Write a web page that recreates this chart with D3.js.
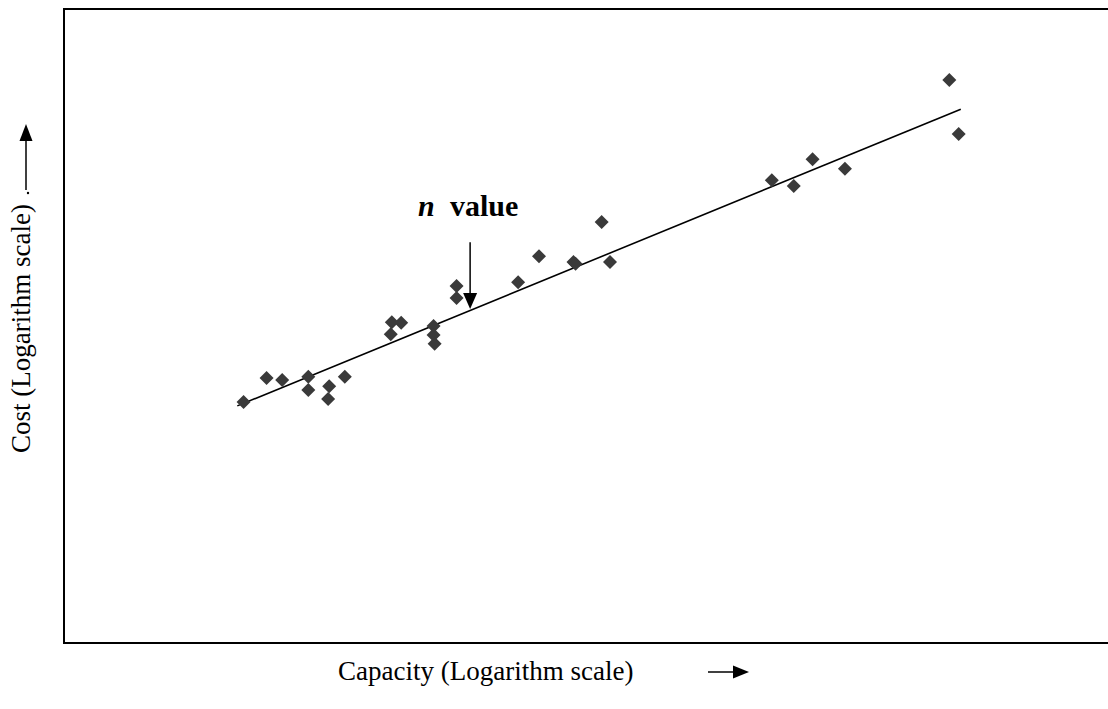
<!DOCTYPE html>
<html>
<head>
<meta charset="utf-8">
<script src="https://cdn.jsdelivr.net/npm/d3@7"></script>
<style>
  body { margin: 0; background: #fff; }
  svg { display: block; }
  text { font-family: "Liberation Serif", "Times New Roman", serif; fill: #000; }
</style>
</head>
<body>
<svg id="chart" width="1108" height="709"></svg>
<script>
// log capacity / log cost, in arbitrary units (0..100)
const logCapacity = [17.2, 19.4, 20.9, 23.4, 23.4, 25.4, 25.3, 26.9, 31.4, 32.3, 31.3, 35.4, 35.4, 35.5,
                     37.6, 37.6, 43.5, 45.5, 48.8, 49.0, 52.3, 51.5, 67.8, 69.9, 71.7, 74.8, 84.8, 85.7];
const logCost     = [38.0, 41.8, 41.5, 42.0, 39.9, 40.5, 38.5, 42.0, 50.6, 50.5, 48.7, 50.0, 48.6, 47.2,
                     56.3, 54.4, 56.9, 61.0, 60.1, 59.8, 60.1, 66.4, 73.0, 72.1, 76.3, 74.8, 88.8, 80.3];
// fitted line end points
const fitX = [16.6, 85.9];
const fitY = [37.4, 84.2];
// "n value" pointer
const pointerX = 38.9;
const pointerY = [63.2, 52.7];

const svg = d3.select("#chart");

const x = d3.scaleLinear().domain([0, 100]).range([64, 1108]);
const y = d3.scaleLinear().domain([0, 100]).range([643, 9]);

// arrow: line plus a filled head, tip at (x2,y2)
function arrow(x1, y1, x2, y2, len, half) {
    const a = Math.atan2(y2 - y1, x2 - x1);
    const bx = x2 - len * Math.cos(a), by = y2 - len * Math.sin(a);
    svg.append("line")
        .attr("x1", x1).attr("y1", y1)
        .attr("x2", bx).attr("y2", by)
        .attr("stroke", "#000")
        .attr("stroke-width", 1.5);
    const px = -Math.sin(a) * half, py = Math.cos(a) * half;
    svg.append("path")
        .attr("d", "M" + x2 + "," + y2 + "L" + (bx + px) + "," + (by + py) + "L" + (bx - px) + "," + (by - py) + "Z")
        .attr("fill", "#000");
}

// frame
svg.append("rect")
    .attr("x", 64).attr("y", 9)
    .attr("width", 1060).attr("height", 634)
    .attr("fill", "none")
    .attr("stroke", "#000")
    .attr("stroke-width", 2);

// fitted line
svg.append("line")
    .attr("x1", x(fitX[0])).attr("y1", y(fitY[0]))
    .attr("x2", x(fitX[1])).attr("y2", y(fitY[1]))
    .attr("stroke", "#000")
    .attr("stroke-width", 1.6);

// diamonds
const pts = logCapacity.map((d, i) => [d, logCost[i]]);
svg.selectAll("path.pt")
  .data(pts)
  .enter().append("path")
    .attr("class", "pt")
    .attr("d", "M0,-7L7,0L0,7L-7,0Z")
    .attr("transform", d => "translate(" + x(d[0]) + "," + y(d[1]) + ")")
    .attr("fill", "#3a3a3a");

// annotation
arrow(x(pointerX), y(pointerY[0]), x(pointerX), y(pointerY[1]), 16, 7);

const note = svg.append("text")
    .attr("x", 418).attr("y", 216)
    .attr("font-size", 30)
    .attr("font-weight", "bold");
note.append("tspan").attr("font-style", "italic").text("n");
note.append("tspan").attr("x", 450).text("value");

// x axis label
svg.append("text")
    .attr("x", 338).attr("y", 680)
    .attr("font-size", 27)
    .text("Capacity (Logarithm scale)");
arrow(708, 672, 749, 672, 16, 6.5);

// y axis label
svg.append("text")
    .attr("transform", "translate(30,453) rotate(-90)")
    .attr("font-size", 27)
    .text("Cost (Logarithm scale)");
arrow(26, 190, 26, 124, 17, 6.5);
svg.append("circle")
    .attr("cx", 28).attr("cy", 193).attr("r", 1.2)
    .attr("fill", "#000");
</script>
</body>
</html>
